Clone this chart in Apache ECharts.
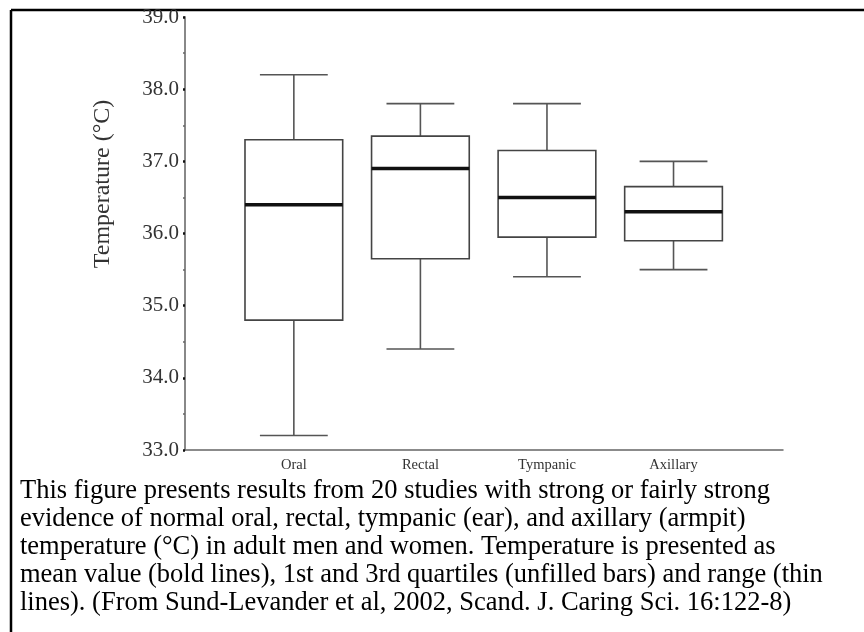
<!DOCTYPE html>
<html>
<head>
<meta charset="utf-8">
<script src="https://cdn.jsdelivr.net/npm/echarts@6/dist/echarts.min.js"></script>
<style>
html,body{margin:0;padding:0;background:#fff;}
#chart{width:864px;height:632px;}
</style>
</head>
<body>
<div id="chart"></div>
<script>
const categories = ['Oral', 'Rectal', 'Tympanic', 'Axillary'];
const lowValues  = [33.2, 34.4, 35.4, 35.5];
const q1Values   = [34.8, 35.65, 35.95, 35.9];
const meanValues = [36.4, 36.9, 36.5, 36.3];
const q3Values   = [37.3, 37.35, 37.15, 36.65];
const highValues = [38.2, 37.8, 37.8, 37.0];
const yAxisTitle = 'Temperature (°C)';
const captionLines = [
  'This figure presents results from 20 studies with strong or fairly strong',
  'evidence of normal oral, rectal, tympanic (ear), and axillary (armpit)',
  'temperature (°C) in adult men and women. Temperature is presented as',
  'mean value (bold lines), 1st and 3rd quartiles (unfilled bars) and range (thin',
  'lines). (From Sund-Levander et al, 2002, Scand. J. Caring Sci. 16:122-8)'
];

const boxData = categories.map((c, i) => [i + 1, lowValues[i], q1Values[i], meanValues[i], q3Values[i], highValues[i]]);

const chart = echarts.init(document.getElementById('chart'));
const serif = '"Liberation Serif", "DejaVu Serif", serif';

chart.setOption({
  backgroundColor: '#fff',
  animation: false,
  grid: { left: 185, right: 81, top: 17, bottom: 182, containLabel: false },
  xAxis: {
    type: 'value',
    min: 0.14,
    max: 4.865,
    splitLine: { show: false },
    axisLine: { show: true, lineStyle: { color: '#666', width: 1.5 } },
    axisTick: { show: false },
    axisLabel: {
      customValues: [1, 2, 3, 4],
      formatter: v => categories[Math.round(v) - 1] || '',
      fontFamily: serif,
      fontSize: 14.5,
      color: '#333',
      margin: 8
    }
  },
  yAxis: {
    type: 'value',
    min: 33,
    max: 39,
    interval: 1,
    splitLine: { show: false },
    axisLine: { show: true, lineStyle: { color: '#888', width: 2 } },
    axisTick: { show: true, length: 2, lineStyle: { color: '#111', width: 2.5 } },
    minorTick: { show: true, splitNumber: 2, length: 2, lineStyle: { color: '#666', width: 1.5 } },
    axisLabel: {
      formatter: v => v.toFixed(1),
      fontFamily: serif,
      fontSize: 21,
      color: '#333',
      margin: 6
    }
  },
  series: [{
    type: 'custom',
    data: boxData,
    renderItem: function (params, api) {
      const x = api.value(0);
      const unit = api.size([1, 0])[0];
      const halfBox = unit * 0.386;
      const halfCap = unit * 0.268;
      const pLow = api.coord([x, api.value(1)]);
      const pQ1 = api.coord([x, api.value(2)]);
      const pMed = api.coord([x, api.value(3)]);
      const pQ3 = api.coord([x, api.value(4)]);
      const pHigh = api.coord([x, api.value(5)]);
      const thin = { stroke: '#555', lineWidth: 1.6, fill: null };
      return {
        type: 'group',
        children: [
          { type: 'line', shape: { x1: pHigh[0], y1: pHigh[1], x2: pQ3[0], y2: pQ3[1] }, style: thin },
          { type: 'line', shape: { x1: pLow[0], y1: pLow[1], x2: pQ1[0], y2: pQ1[1] }, style: thin },
          { type: 'line', shape: { x1: pHigh[0] - halfCap, y1: pHigh[1], x2: pHigh[0] + halfCap, y2: pHigh[1] }, style: thin },
          { type: 'line', shape: { x1: pLow[0] - halfCap, y1: pLow[1], x2: pLow[0] + halfCap, y2: pLow[1] }, style: thin },
          { type: 'rect', shape: { x: pQ3[0] - halfBox, y: pQ3[1], width: halfBox * 2, height: pQ1[1] - pQ3[1] }, style: { stroke: '#444', lineWidth: 1.6, fill: '#fff' } },
          { type: 'line', shape: { x1: pMed[0] - halfBox, y1: pMed[1], x2: pMed[0] + halfBox, y2: pMed[1] }, style: { stroke: '#111', lineWidth: 3.5 } }
        ]
      };
    }
  }],
  graphic: [
    { type: 'line', shape: { x1: 11, y1: 10, x2: 864, y2: 10 }, style: { stroke: '#000', lineWidth: 2.5 } },
    { type: 'line', shape: { x1: 11, y1: 10, x2: 11, y2: 632 }, style: { stroke: '#000', lineWidth: 2.5 } },
    {
      type: 'text', x: 103, y: 184, rotation: Math.PI / 2,
      style: { text: yAxisTitle, font: '24px ' + serif, fill: '#333', align: 'center', verticalAlign: 'middle' }
    },
    {
      type: 'text', left: 20, top: 477,
      style: { text: captionLines.join('\n'), font: '26.5px ' + serif, fill: '#000', lineHeight: 28 }
    }
  ]
});
</script>
</body>
</html>
